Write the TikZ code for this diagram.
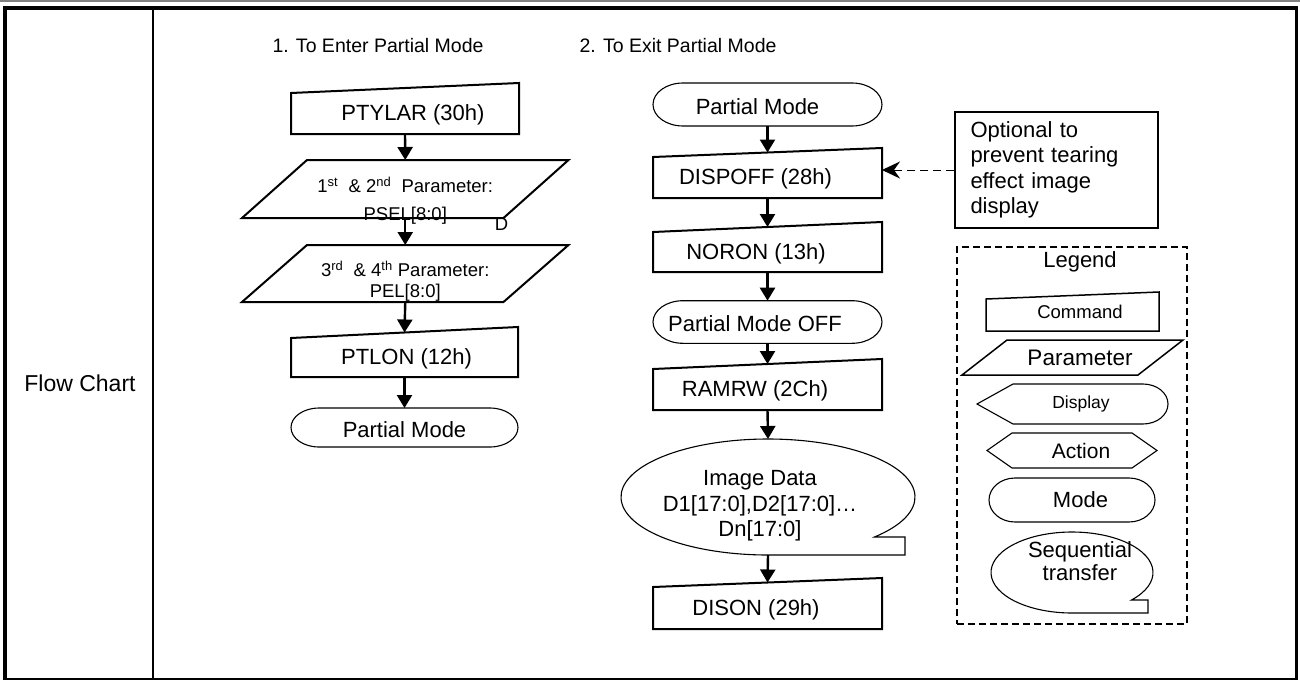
\documentclass[tikz,border=0pt]{standalone}
\usepackage{fontspec}
\setmainfont{Liberation Sans}
\usetikzlibrary{arrows.meta}

\newcommand\CmdOut[3][]{\draw[#1] ([yshift=-#3]#2.north west) -- ([yshift=#3]#2.north east) -- (#2.south east) -- (#2.south west) -- cycle;}
\newcommand\ParOut[3][]{\draw[#1] ([xshift=#3]#2.north west) -- ([xshift=#3]#2.north east) -- ([xshift=-#3]#2.south east) -- ([xshift=-#3]#2.south west) -- cycle;}
\newcommand\TermOut[4][]{\draw[#1] ([xshift=#3pt]#2.north west) -- ([xshift=-#3pt]#2.north east) arc[start angle=90,end angle=-90,x radius=#3,y radius=#4] -- ([xshift=#3pt]#2.south west) arc[start angle=270,end angle=90,x radius=#3,y radius=#4] -- cycle;}
\newcommand\SeqOut[6][]{\draw[#1] ([shift={({#3*cos(#5)},{-#4*sin(#5)})}]#2.center) arc[start angle=-#5,end angle=270,x radius=#3,y radius=#4] -- ([xshift=#6pt]#2.south) -- ([shift={(#6,{-#4*sin(#5)})}]#2.center) -- cycle;}

\tikzset{
  box/.style={draw=none, inner sep=0pt, outer sep=0pt, rectangle},
  lbl/.style={inner sep=0pt, font=\fontsize{22}{25.5}\selectfont, align=center},
  clbl/.style={lbl, yshift=-4pt},
  plbl/.style={inner sep=0pt, font=\fontsize{18.5}{21}\selectfont, align=center},
  heavy/.style={line width=2pt, line join=miter},
  light/.style={line width=1.1pt},
  mid/.style={line width=1.5pt, line join=miter},
  flow/.style={line width=2.4pt, -{Triangle[width=15pt,length=13pt]}},
  notearrow/.style={line width=1pt, dash pattern=on 8pt off 5pt, -{Stealth[length=18pt,width=17pt,inset=6pt]}}
}

\begin{document}
\begin{tikzpicture}[x=1pt,y=1pt]
\useasboundingbox (0,0) rectangle (1300,-680);

% frame
\draw[gray, line width=1.5pt] (0,-1.2) -- (1300,-1.2);
\draw[line width=4pt] (3,-8) -- (1298,-8);
\draw[line width=3.5pt] (5,-6) -- (5,-680);
\draw[line width=3.3pt] (1296.5,-6) -- (1296.5,-680);
\draw[line width=1.8pt] (3,-679) -- (1298,-679);
\draw[line width=2.3pt] (153,-8) -- (153,-680);

\node[lbl, font=\fontsize{23}{26}\selectfont] (fc) at (80,-383) {Flow Chart};
\node[lbl, font=\fontsize{19.5}{22}\selectfont] (h1) at (378,-46) {1. To Enter Partial Mode};
\node[lbl, font=\fontsize{19.5}{22}\selectfont] (h2) at (678,-46) {2. To Exit Partial Mode};

% ---- enter column
\node[box, minimum width=228pt, minimum height=46pt, label={[clbl,xshift=8pt]center:PTYLAR (30h)}] (ptylar) at (405,-111) {};
\node[box, minimum width=261.5pt, minimum height=58pt, label={[plbl,yshift=-12pt]center:{1\textsuperscript{st}\ \ \& 2\textsuperscript{nd}\ \ Parameter:\\[7pt]PSEL[8:0]}}] (par1) at (405.25,-189) {};
\node[plbl] (dd) at (501.5,-224) {D};
\node[box, minimum width=261.5pt, minimum height=57pt, label={[plbl,yshift=-8pt]center:{3\textsuperscript{rd}\ \ \& 4\textsuperscript{th} Parameter:\\PEL[8:0]}}] (par2) at (405.25,-273.5) {};
\node[box, minimum width=227pt, minimum height=44.5pt, label={[clbl,xshift=2pt]center:PTLON (12h)}] (ptlon) at (404.5,-354.75) {};
\node[box, minimum width=227pt, minimum height=39pt, label={[lbl,yshift=-2pt]center:Partial Mode}] (pm1) at (404.5,-427.5) {};

\CmdOut[heavy]{ptylar}{5pt}
\ParOut[heavy]{par1}{32.5pt}
\ParOut[heavy]{par2}{32.5pt}
\CmdOut[heavy]{ptlon}{5.5pt}
\TermOut[light]{pm1}{28}{19.5}

\draw[flow] (ptylar.south) -- (par1.north);
\draw[flow] (par1.south) -- (par2.north);
\draw[flow] (par2.south) -- (ptlon.north);
\draw[flow] (ptlon.south) -- (pm1.north);

% ---- exit column
\node[box, minimum width=229pt, minimum height=43pt, label={[lbl,xshift=-10pt,yshift=-2pt]center:Partial Mode}] (pm2) at (767.5,-104.5) {};
\node[box, minimum width=229pt, minimum height=45.5pt, label={[clbl,xshift=-12pt]center:DISPOFF (28h)}] (dispoff) at (767.5,-175.25) {};
\node[box, minimum width=229pt, minimum height=45pt, label={[clbl,xshift=-11.5pt]center:NORON (13h)}] (noron) at (767.5,-249.5) {};
\node[box, minimum width=229pt, minimum height=42.6pt, label={[lbl,xshift=-12.5pt,yshift=-2pt]center:Partial Mode OFF}] (pmoff) at (767.5,-322) {};
\node[box, minimum width=229pt, minimum height=46pt, label={[clbl,xshift=-12.5pt]center:RAMRW (2Ch)}] (ramrw) at (767.5,-387) {};
\node[box, minimum width=294pt, minimum height=116pt, label={[lbl,xshift=-8pt,yshift=-9pt]center:{Image Data\\D1[17:0],D2[17:0]\dots\\Dn[17:0]}}] (img) at (768,-497) {};
\node[box, minimum width=229pt, minimum height=46.5pt, label={[clbl,xshift=-11.5pt]center:DISON (29h)}] (dison) at (767.5,-605.75) {};

\TermOut[light]{pm2}{30}{21.5}
\CmdOut[heavy]{dispoff}{4.5pt}
\CmdOut[heavy]{noron}{5pt}
\TermOut[light]{pmoff}{30}{21.3}
\CmdOut[heavy]{ramrw}{5pt}
\SeqOut[light]{img}{147}{58}{43.6}{137}
\CmdOut[heavy]{dison}{4.5pt}

\draw[flow] (pm2.south) -- (dispoff.north);
\draw[flow] (dispoff.south) -- (noron.north);
\draw[flow] (noron.south) -- (pmoff.north);
\draw[flow] (pmoff.south) -- (ramrw.north);
\draw[flow] (ramrw.south) -- (img.north);
\draw[flow] (img.south) -- (dison.north);

% ---- note
\node[draw, line width=1.2pt, minimum width=203pt, minimum height=116pt, inner xsep=15pt, inner ysep=0pt,
      text width=172pt, align=left, font=\fontsize{22}{25.5}\selectfont] (note) at (1056.5,-170)
      {Optional to\\prevent tearing\\effect image\\display};
\draw[notearrow] (note.west) -- (note.west -| dispoff.east);

% ---- legend
\node[draw, line width=1.2pt, dash pattern=on 7pt off 4pt, minimum width=230pt, minimum height=377pt] (legbox) at (1072,-435.5) {};
\node[lbl] (legt) at (1080,-262) {Legend};

\node[box, minimum width=173pt, minimum height=35.5pt, label={[lbl,font=\fontsize{18.5}{21}\selectfont,xshift=7.5pt,yshift=1pt]center:Command}] (cmdL) at (1072.5,-313.25) {};
\node[box, minimum width=176pt, minimum height=35pt, label={[lbl,font=\fontsize{22.5}{25}\selectfont,xshift=7.5pt]center:Parameter}] (parL) at (1072.5,-357.5) {};
\node[box, minimum width=191pt, minimum height=40pt, label={[lbl,font=\fontsize{17.5}{20}\selectfont,xshift=8.5pt]center:Display}] (dispL) at (1072.5,-404) {};
\node[box, minimum width=170pt, minimum height=35pt, label={[lbl,font=\fontsize{21}{24}\selectfont,xshift=9pt]center:Action}] (actL) at (1072,-450.5) {};
\node[box, minimum width=166pt, minimum height=44pt, label={[lbl,xshift=8.5pt]center:Mode}] (modeL) at (1072,-500) {};
\node[box, minimum width=162pt, minimum height=81pt, label={[lbl,font=\fontsize{22}{23}\selectfont,xshift=8pt,yshift=11pt]center:{Sequential\\transfer}}] (seqL) at (1072,-572.5) {};

\CmdOut[mid]{cmdL}{3.5pt}
\ParOut[mid]{parL}{22.5pt}
\draw[light] (dispL.west) -- ([xshift=36pt]dispL.north west) -- ([xshift=-25pt]dispL.north east)
   arc[start angle=90,end angle=-90,x radius=25,y radius=20] -- ([xshift=36pt]dispL.south west) -- cycle;
\draw[light] (actL.west) -- ([xshift=25pt]actL.north west) -- ([xshift=-25pt]actL.north east) -- (actL.east)
   -- ([xshift=-25pt]actL.south east) -- ([xshift=25pt]actL.south west) -- cycle;
\TermOut[light]{modeL}{26}{22}
\SeqOut[light]{seqL}{81}{40.5}{42.8}{76}
\end{tikzpicture}
\end{document}
